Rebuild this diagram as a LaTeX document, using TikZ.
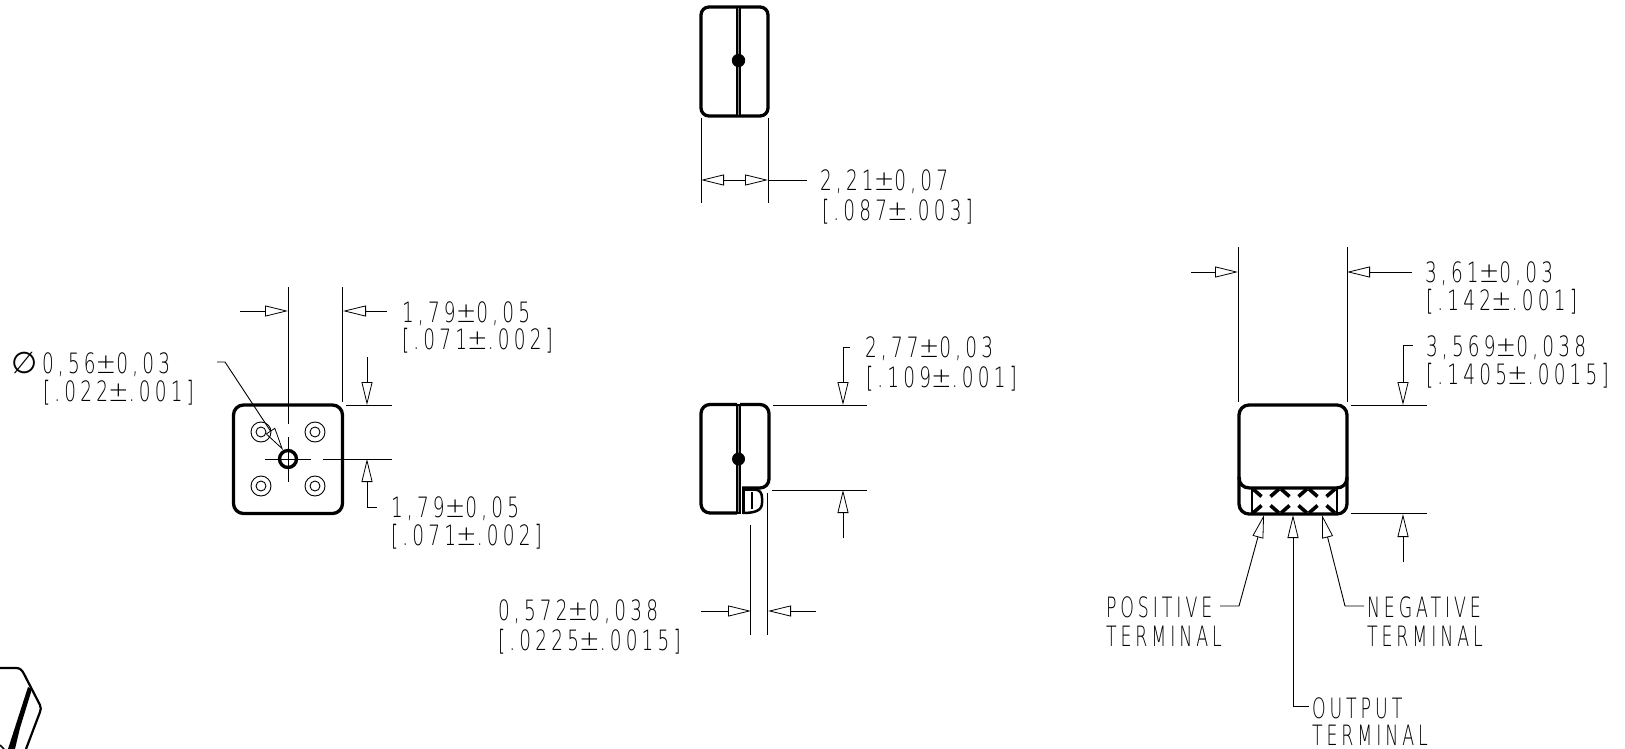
\documentclass[tikz,border=0pt]{standalone}
\usepackage{fontspec}
\usetikzlibrary{arrows.meta}
\newfontfamily\cadfont[FakeStretch=0.66,LetterSpace=15]{DejaVu Sans ExtraLight}
\newfontfamily\capfont[FakeStretch=0.62,LetterSpace=14]{DejaVu Sans ExtraLight}
\newfontfamily\pmfont[FakeStretch=0.88,LetterSpace=9]{DejaVu Sans ExtraLight}
\newfontfamily\diafont{DejaVu Sans}
\newcommand{\pmw}{{\pmfont ±}}
\tikzset{
  hollow/.tip={Triangle[open,length=23pt,width=11pt,line width=.8pt]},
  thin line/.style={line width=.9pt,black},
  bold line/.style={line width=3.3pt,black,line join=round},
  mid line/.style={line width=2pt,black},
  lbl/.style={anchor=base west,inner sep=0pt,outer sep=0pt,font=\cadfont\fontsize{28}{28}\selectfont},
  caplbl/.style={lbl,font=\capfont\fontsize{28}{28}\selectfont},
  dialbl/.style={lbl,font=\diafont\fontsize{30}{30}\selectfont},
  seam/.style={line width=5.4pt,black},
  seamgap/.style={line width=.4pt,black!45},
}
\begin{document}
\begin{tikzpicture}[x=1pt,y=-1pt]
\useasboundingbox (0,0) rectangle (1625,749);
% --- top view
\draw[bold line,rounded corners=8pt] (701,7) rectangle (768,116);
\draw[seam] (738.5,6) -- (738.5,117);
\draw[seamgap] (738.5,8) -- (738.5,115);
\fill (738.5,60.5) circle (6.7);
\draw[thin line] (701,118) -- (701,203) (768,118) -- (768,203);
\draw[thin line,{hollow}-{hollow}] (701,180) -- (768,180);
\draw[thin line] (768,180) -- (807,180);
\node[lbl] (a1) at (820,190.5) {2,21\pmw 0,07};
\node[lbl] (a2) at (822,220) {[.087\pmw .003]};
% --- pin view
\draw[bold line,rounded corners=10pt] (233.5,405) rectangle (342.5,513.5);
\foreach \cx/\cy in {261/432,315/432,261/486,315/486}{
  \draw[thin line] (\cx,\cy) circle (10) (\cx,\cy) circle (5);
}
\draw[line width=3.4pt] (288,459) circle (8.5);
\draw[thin line] (288,287) -- (288,424) (288,437) -- (288,482);
\draw[thin line] (265,459) -- (311,459) (323,459) -- (392,459);
\draw[thin line] (342.5,287) -- (342.5,402);
\draw[thin line,-{hollow}] (240,311) -- (288,311);
\draw[thin line,-{hollow}] (387,311) -- (343,311);
\node[lbl] (b1) at (402,322) {1,79\pmw 0,05};
\node[lbl] (b2) at (402,349) {[.071\pmw .002]};
\draw[thin line] (346,405) -- (392,405);
\draw[thin line,-{hollow}] (367,357) -- (367,405);
\draw[thin line,-{hollow}] (377,507) -- (367,507) -- (367,459);
\node[lbl] (b3) at (391,517) {1,79\pmw 0,05};
\node[lbl] (b4) at (391,545) {[.071\pmw .002]};
\node[dialbl] (b5) at (11,373) {∅};
\node[lbl] (b6) at (42,373) {0,56\pmw 0,03};
\node[lbl] (b7) at (43,401) {[.022\pmw .001]};
\draw[thin line,-{hollow}] (217,362) -- (225,362) -- (283,450);
% --- side view
\draw[bold line,rounded corners=9pt] (737,404.5) -- (701,404.5) -- (701,513) -- (737,513);
\draw[bold line,rounded corners=9pt] (740,404.5) -- (769,404.5) -- (769,488) -- (742,488);
\draw[seam] (738.5,404) -- (738.5,514);
\draw[seamgap] (738.5,406) -- (738.5,512);
\draw[line width=3pt] (743,488) -- (743,514);
\draw[mid line,line width=2.5pt] (743,489.5) -- (754,489.5) .. controls (760,489.5) and (762,493) .. (762,498) -- (762,503) .. controls (762,510) and (756,513) .. (743,513);
\draw[mid line] (752,492) -- (752,509);
\fill (738.5,459) circle (6.5);
\draw[thin line] (773,405) -- (867,405) (772,490) -- (867,490);
\draw[thin line,-{hollow}] (850,347) -- (843,347) -- (843,405);
\draw[thin line,-{hollow}] (843,538) -- (843,490);
\node[lbl] (c1) at (865,357.5) {2,77\pmw 0,03};
\node[lbl] (c2) at (866,387) {[.109\pmw .001]};
\draw[thin line] (750.7,525) -- (750.7,635) (767.7,493) -- (767.7,635);
\draw[thin line,-{hollow}] (701,611) -- (751,611);
\draw[thin line,-{hollow}] (816,611) -- (768,611);
\node[lbl] (c3) at (498,620) {0,572\pmw 0,038};
\node[lbl] (c4) at (498,650) {[.0225\pmw .0015]};
% --- terminal view
\draw[bold line,rounded corners=10pt] (1239,405) rectangle (1347,514);
\draw[bold line] (1239,477) .. controls (1239,484) and (1243,488) .. (1250,488) -- (1336,488) .. controls (1343,488) and (1347,484) .. (1347,477);
\draw[mid line,line width=2.4pt] (1252,488) -- (1252,514) (1337,488) -- (1337,514);
\foreach \cx in {1266,1294,1322}{
  \draw[line width=3.6pt] (\cx-13,489) -- (\cx-4.5,496.5) (\cx+13,489) -- (\cx+4.5,496.5)
     (\cx-13,513) -- (\cx-4.5,505.5) (\cx+13,513) -- (\cx+4.5,505.5);
}
\draw[thin line] (1238,247) -- (1238,402) (1347,247) -- (1347,402);
\draw[thin line,-{hollow}] (1191,272) -- (1238,272);
\draw[thin line,-{hollow}] (1412,272) -- (1347,272);
\node[lbl] (d1) at (1425,282) {3,61\pmw 0,03};
\node[lbl] (d2) at (1426,310) {[.142\pmw .001]};
\node[lbl] (d3) at (1426,356) {3,569\pmw 0,038};
\node[lbl] (d4) at (1426,384) {[.1405\pmw .0015]};
\draw[thin line,-{hollow}] (1413,345) -- (1403,345) -- (1403,405);
\draw[thin line] (1351,405) -- (1427,405) (1351,513) -- (1427,513);
\draw[thin line,-{hollow}] (1403,562) -- (1403,514);
\draw[thin line,-{hollow}] (1220,606) -- (1239,606) -- (1264,515);
\draw[thin line,-{hollow}] (1309,706) -- (1293,706) -- (1293,515);
\draw[thin line,-{hollow}] (1364,606) -- (1345,606) -- (1322,515);
\node[caplbl] (e1) at (1106,617) {POSITIVE};
\node[caplbl] (e2) at (1106,646) {TERMINAL};
\node[caplbl] (e3) at (1367,617) {NEGATIVE};
\node[caplbl] (e4) at (1367,646) {TERMINAL};
\node[caplbl] (e5) at (1312,718) {OUTPUT};
\node[caplbl] (e6) at (1312,745) {TERMINAL};
% --- cut-off view, bottom left
\draw[line width=2.2pt,line join=round] (0,668) -- (16,668) .. controls (20,668) and (22,670) .. (24,674) -- (40,705) .. controls (41,708) and (41,709) .. (40,712) -- (26,749);
\fill (28,687) -- (32,689) -- (20,728) -- (15,749) -- (8,749) -- cycle;
\draw[line width=1.5pt] (0,745) -- (4,749);
\end{tikzpicture}
\end{document}
